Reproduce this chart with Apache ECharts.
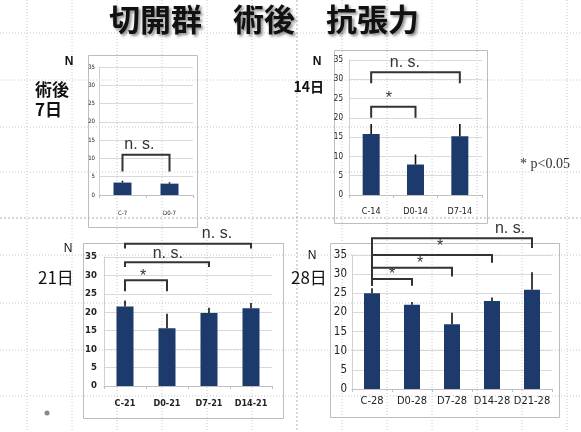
<!DOCTYPE html>
<html><head><meta charset="utf-8">
<script src="https://cdn.jsdelivr.net/npm/echarts@6/dist/echarts.min.js"></script>
<style>html,body{margin:0;padding:0;background:#fff}#c{width:581px;height:432px}</style>
</head><body><div id="c"></div>
<script>
// ---- data ----
const yTicks = [0, 5, 10, 15, 20, 25, 30, 35];
const cats7 = ['C-7', 'D0-7'];
const mean7 = [3.4, 3.1];
const err7 = [0.5, 0.4];
const cats14 = ['C-14', 'D0-14', 'D7-14'];
const mean14 = [15.8, 7.9, 15.2];
const err14 = [2.6, 2.6, 3.2];
const cats21 = ['C-21', 'D0-21', 'D7-21', 'D14-21'];
const mean21 = [21.6, 15.7, 19.8, 21.1];
const err21 = [1.6, 3.9, 1.4, 1.4];
const cats28 = ['C-28', 'D0-28', 'D7-28', 'D14-28', 'D21-28'];
const mean28 = [25.0, 22.0, 16.9, 23.0, 25.9];
const err28 = [1.3, 0.7, 3.0, 0.9, 4.6];
// brackets: [fromIdx, toIdx, topY, leftLegY, rightLegY, textX(category units), textY]
const brackets7 = [[0, 1, 11.0, 6.4, 6.4, 0.36, 13.7]];
const bracketText7 = ['n. s.'];
const brackets14 = [[0, 1, 22.9, 20.0, 20.0, 0.4, 25.1], [0, 2, 31.8, 29.0, 29.0, 0.76, 34.3]];
const bracketText14 = ['*', 'n. s.'];
const brackets21 = [[0, 1, 28.7, 25.7, 25.7, 0.43, 29.7], [0, 2, 33.6, 32.3, 32.3, 1.02, 35.9], [0, 3, 38.6, 37.3, 37.3, 2.19, 41.3]];
const bracketText21 = ['*', 'n. s.', 'n. s.'];
const brackets28 = [[0, 1, 28.7, 27.0, 27.0, 0.5, 30.0], [0, 2, 31.7, 27.0, 29.4, 1.2, 32.8], [0, 3, 35.0, 27.0, 33.0, 1.7, 37.2], [0, 4, 39.4, 27.0, 36.8, 3.45, 42.0]];
const bracketText28 = ['*', '*', '*', 'n. s.'];

const NARROW = "'Liberation Sans Narrow','DejaVu Sans Condensed','Roboto Condensed','Liberation Sans',sans-serif";
const BAR = '#1c3a6b';

const panels = [
  {cats: cats7, mean: mean7, err: err7, br: brackets7, bt: bracketText7,
   grid: {left: 99, top: 67, width: 94, height: 128}, barW: 18,
   yFont: {fontSize: 6, margin: 4}, xFont: {fontSize: 6, margin: 15}},
  {cats: cats14, mean: mean14, err: err14, br: brackets14, bt: bracketText14,
   grid: {left: 349, top: 60, width: 133, height: 135}, barW: 17,
   yFont: {fontSize: 8, margin: 6}, xFont: {fontSize: 9, margin: 12}},
  {cats: cats21, mean: mean21, err: err21, br: brackets21, bt: bracketText21,
   grid: {left: 104, top: 257, width: 168, height: 129}, barW: 17,
   yFont: {fontSize: 9.5, margin: 7, fontWeight: 'bold'}, xFont: {fontSize: 9, margin: 13, fontWeight: 'bold'}},
  {cats: cats28, mean: mean28, err: err28, br: brackets28, bt: bracketText28,
   grid: {left: 352, top: 255, width: 200, height: 134}, barW: 16,
   yFont: {fontSize: 11.5, margin: 5}, xFont: {fontSize: 11, margin: 7}}
];

const grid = [], xAxis = [], yAxis = [], series = [];
panels.forEach((p, i) => {
  grid.push(Object.assign({containLabel: false}, p.grid));
  xAxis.push({type: 'category', gridIndex: i, data: p.cats,
    axisLine: {lineStyle: {color: '#bfbfbf'}},
    axisTick: {show: true, length: 3, lineStyle: {color: '#bfbfbf'}},
    axisLabel: Object.assign({color: '#222', fontFamily: NARROW, interval: 0}, p.xFont)});
  yAxis.push({type: 'value', gridIndex: i, min: yTicks[0], max: yTicks[yTicks.length - 1], interval: yTicks[1] - yTicks[0],
    axisLine: {show: true, lineStyle: {color: '#d0d0d0'}},
    axisTick: {show: false},
    splitLine: {lineStyle: {color: '#d9d9d9', width: 1}},
    axisLabel: Object.assign({color: '#222', fontFamily: NARROW}, p.yFont)});
  series.push({type: 'bar', xAxisIndex: i, yAxisIndex: i, data: p.mean, barWidth: p.barW,
    itemStyle: {color: BAR}, z: 2});
  series.push({type: 'custom', xAxisIndex: i, yAxisIndex: i, z: 3,
    data: p.mean.map((m, k) => [k, m, p.err[k]]),
    encode: {x: 0, y: 1},
    renderItem: (params, api) => {
      const a = api.coord([api.value(0), api.value(1)]);
      const b = api.coord([api.value(0), api.value(1) + api.value(2)]);
      return {type: 'line', shape: {x1: a[0], y1: a[1], x2: b[0], y2: b[1]},
        style: {stroke: '#111', lineWidth: 1.6}};
    }});
  series.push({type: 'custom', xAxisIndex: i, yAxisIndex: i, z: 4, clip: false,
    data: p.br, encode: {x: 0, y: 2},
    renderItem: (params, api) => {
      const x1 = api.value(0), x2 = api.value(1), top = api.value(2);
      const lL = api.value(3), lR = api.value(4), tx = api.value(5), ty = api.value(6);
      const pL = api.coord([x1, lL]), pT1 = api.coord([x1, top]);
      const pT2 = api.coord([x2, top]), pR = api.coord([x2, lR]);
      const c0 = api.coord([0, ty]), c1 = api.coord([1, ty]);
      const txp = c0[0] + (c1[0] - c0[0]) * tx;
      return {type: 'group', children: [
        {type: 'polyline', shape: {points: [[pL[0], pL[1]], [pT1[0], pT1[1]], [pT2[0], pT2[1]], [pR[0], pR[1]]]},
          style: {stroke: '#333', lineWidth: 2, fill: null}},
        {type: 'text', style: {text: p.bt[params.dataIndex], x: txp, y: c0[1],
          fill: '#333', font: '16px "Liberation Sans", sans-serif', align: 'center', verticalAlign: 'middle'}}
      ]};
    }});
});

// decorative slide background grid + boxes + texts
const graphic = [];
const vLines = [27, 72, 117, 162, 207, 252, 342, 387, 432, 477, 522, 567];
const hLines = [33, 80, 127, 172, 255, 303, 350, 396];
vLines.forEach(x => graphic.push({type: 'line', z: -10, shape: {x1: x, y1: 0, x2: x, y2: 432}, style: {stroke: '#c8c8c8', lineWidth: 1, lineDash: [1, 2]}}));
hLines.forEach(y => graphic.push({type: 'line', z: -10, shape: {x1: 0, y1: y, x2: 581, y2: y}, style: {stroke: '#c8c8c8', lineWidth: 1, lineDash: [1, 2]}}));
graphic.push({type: 'line', z: -10, shape: {x1: 297, y1: 0, x2: 297, y2: 432}, style: {stroke: '#b0b0b0', lineWidth: 1, lineDash: [2, 2]}});
graphic.push({type: 'line', z: -10, shape: {x1: 0, y1: 218, x2: 581, y2: 218}, style: {stroke: '#b0b0b0', lineWidth: 1, lineDash: [2, 2]}});
[[88, 55, 109, 172], [334, 50, 153, 173], [83, 243, 200, 175], [330, 243, 229, 174]].forEach(b =>
  graphic.push({type: 'rect', z: -5, shape: {x: b[0] + 0.5, y: b[1] + 0.5, width: b[2], height: b[3]}, style: {fill: 'rgba(255,255,255,0)', stroke: '#bdbdbd', lineWidth: 1}}));
function txt(x, y, s, font, align, color) {
  graphic.push({type: 'text', z: 10, x: x, y: y, style: {text: s, font: font, fill: color || '#111', align: align || 'left', verticalAlign: 'middle'}});
}
graphic.push({type: 'text', z: 10, x: 264, y: 19, style: {text: '切開群　術後　抗張力', font: 'bold 31px "Noto Sans CJK JP"', fill: '#111', align: 'center', verticalAlign: 'middle', textShadowColor: 'rgba(0,0,0,0.45)', textShadowBlur: 3, textShadowOffsetX: 2, textShadowOffsetY: 2}});
txt(69, 62, 'N', 'bold 12px "Liberation Sans", sans-serif', 'center');
txt(35, 90, '術後', 'bold 17px "Noto Sans CJK JP"');
txt(35, 110, '7日', 'bold 17px "Noto Sans CJK JP"');
txt(317, 62, 'N', 'bold 12px "Liberation Sans", sans-serif', 'center');
txt(324, 87, '14日', 'bold 14px "Noto Sans CJK JP"', 'right');
txt(68, 249, 'N', '12px "Liberation Sans", sans-serif', 'center');
txt(38, 278, '21日', '17px "Noto Sans CJK JP"');
txt(312, 256, 'N', '12px "Liberation Sans", sans-serif', 'center');
txt(291, 278, '28日', '17px "Noto Sans CJK JP"');
txt(520, 164, '* p<0.05', '14px "Liberation Serif", serif', 'left', '#333');
graphic.push({type: 'circle', z: 10, shape: {cx: 47, cy: 413, r: 2.5}, style: {fill: '#8a8a8a'}});

const chart = echarts.init(document.getElementById('c'), null, {renderer: 'canvas'});
chart.setOption({animation: false, backgroundColor: '#fff', grid, xAxis, yAxis, series, graphic});
</script></body></html>
